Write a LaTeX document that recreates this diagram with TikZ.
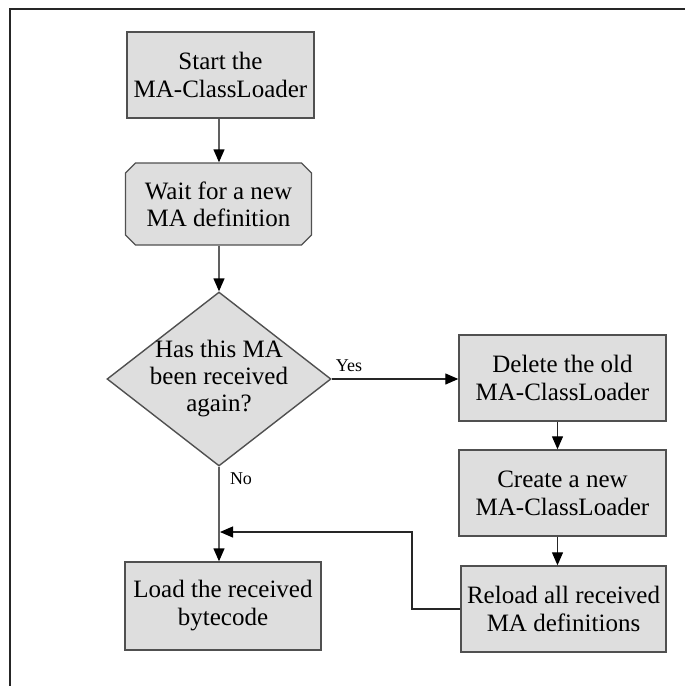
\documentclass[tikz,border=0pt]{standalone}
\usepackage{fontspec}
\setmainfont{Liberation Serif}
\usetikzlibrary{arrows.meta,shapes.geometric,shapes.misc}
\definecolor{boxfill}{HTML}{DEDEDE}
\definecolor{boxline}{HTML}{505050}
\definecolor{conline}{HTML}{606060}
\tikzset{
  procbox/.style={rectangle, draw=boxline, fill=boxfill, line width=1.4pt, inner sep=0pt,
    align=center, font=\fontsize{25}{28}\selectfont},
  waitbox/.style={chamfered rectangle, chamfered rectangle xsep=5pt, chamfered rectangle ysep=5pt,
    draw=boxline, fill=boxfill, line width=1.4pt, inner sep=0pt,
    align=center, font=\fontsize{25}{27}\selectfont},
  decbox/.style={diamond, draw=boxline, fill=boxfill, line width=1.4pt, inner xsep=-20pt, inner ysep=-20pt,
    align=center, font=\fontsize{25}{27}\selectfont},
  conn/.style={draw=conline, line width=1.4pt, -{Triangle[length=13pt,width=11pt,color=black]}},
  darkconn/.style={draw=black!85, line width=1.2pt, -{Triangle[length=13pt,width=11pt,color=black]}},
  lbl/.style={font=\fontsize{18}{20}\selectfont, inner sep=0pt},
}
\begin{document}
\begin{tikzpicture}[x=1pt,y=-1pt]
\useasboundingbox (0,0) rectangle (685,686);
\draw[line width=1.5pt, black!85] (10,686) -- (10,9) -- (685,9);

\node[procbox, minimum width=187pt, minimum height=86pt] (start) at (220.5,75) {Start the\\MA-ClassLoader};
\node[waitbox, minimum width=186pt, minimum height=82pt] (wait) at (218.5,204) {Wait for a new\\MA definition};
\node[decbox, minimum width=224pt, minimum height=174pt] (dec) at (219,379) {Has this MA\\been received\\again?};
\node[procbox, minimum width=207pt, minimum height=86pt] (del) at (562.5,378) {Delete the old\\MA-ClassLoader};
\node[procbox, minimum width=207pt, minimum height=86pt] (create) at (562.5,493) {Create a new\\MA-ClassLoader};
\node[procbox, minimum width=205pt, minimum height=86pt] (reload) at (563.5,609) {Reload all received\\MA definitions};
\node[procbox, minimum width=196pt, minimum height=88pt] (load) at (223,606) {Load the received\\bytecode};

\coordinate (bend) at (412,532);
\coordinate (join) at (220,532);

\draw[conn] (start.south -| dec.north) -- (wait.north -| dec.north);
\draw[conn] (wait.south -| dec.north) -- (dec.north);
\draw[darkconn] (dec.east) -- (dec.east -| del.west);
\draw[conn] (dec.south) -- (dec.south |- load.north);
\draw[darkconn] ([xshift=-5pt]del.south) -- ([xshift=-5pt]create.north);
\draw[darkconn] ([xshift=-5pt]create.south) -- ([xshift=-6pt]reload.north);
\draw[darkconn] (reload.west) -| (bend) -- (join);

\node[lbl] (yes) at (349,366) {Yes};
\node[lbl] (no) at (241,479) {No};
\end{tikzpicture}
\end{document}
